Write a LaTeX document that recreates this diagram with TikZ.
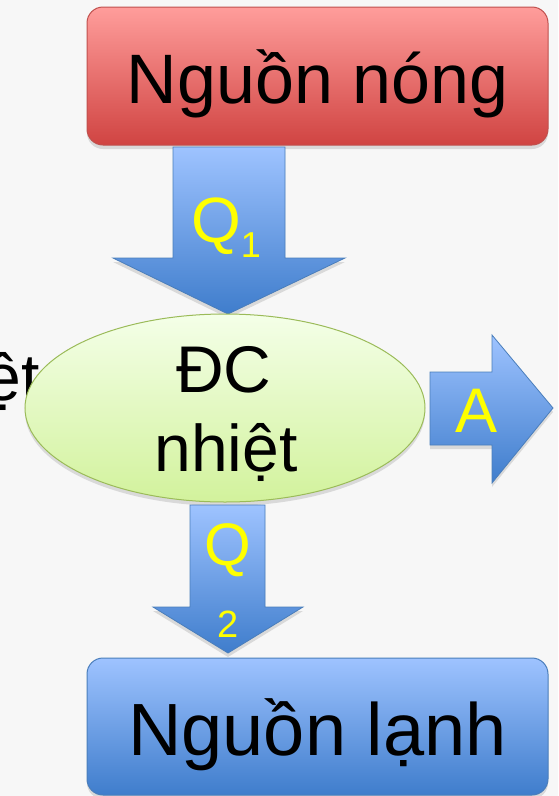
\documentclass[tikz,border=0pt]{standalone}
\usepackage{fontspec}
\setmainfont{Liberation Sans}
\usetikzlibrary{shapes.geometric,shadows}
\definecolor{bg}{HTML}{F7F7F7}
\definecolor{redtop}{HTML}{FF9D9B}
\definecolor{redbot}{HTML}{D04442}
\definecolor{redline}{HTML}{C0504D}
\definecolor{bluetop}{HTML}{9EC3FF}
\definecolor{bluebot}{HTML}{3F7DCC}
\definecolor{blueline}{HTML}{4A7EBB}
\definecolor{greentop}{HTML}{F4FFE8}
\definecolor{greenbot}{HTML}{D2F29C}
\definecolor{greenline}{HTML}{9BBB59}
\definecolor{qyellow}{HTML}{FFFF00}
\tikzset{
  softshadow/.style={drop shadow={opacity=0.25,shadow xshift=0pt,shadow yshift=-4pt}},
  redbox/.style={draw=redline,line width=1pt,top color=redtop,bottom color=redbot,
    rounded corners=16pt,minimum width=461pt,inner sep=0pt,softshadow,
    font=\fontsize{70}{80}\selectfont},
  bluebox/.style={draw=blueline,line width=1pt,top color=bluetop,bottom color=bluebot,
    rounded corners=16pt,minimum width=461pt,inner sep=0pt,softshadow,
    font=\fontsize{74}{80}\selectfont},
  blockarrow/.style={draw=blueline,line width=0.8pt,top color=bluetop,bottom color=bluebot,softshadow},
  bigtxt/.style={font=\fontsize{66}{70}\selectfont,inner sep=0pt},
  ylw/.style={text=qyellow,inner sep=0pt}
}
\begin{document}
\begin{tikzpicture}[x=1pt,y=-1pt]
\fill[bg] (0,0) rectangle (558,796);
\useasboundingbox (0,0) rectangle (558,796);
% cut-off text on the left
\begin{scope}
\clip (0,0) rectangle (558,796);
\node[bigtxt,anchor=base east] (cut) at (40,400) {ệt};
\end{scope}
% hot source
\node[redbox,minimum height=138pt,text height=54pt,text depth=0pt] (hot) at (317.5,76) {Nguồn nóng};
% Q1 arrow
\path[blockarrow] (173,147) -- (285,147) -- (285,258) -- (345,258) -- (228,314) -- (113,258) -- (173,258) -- cycle;
\node[ylw,anchor=base,font=\fontsize{64}{70}\selectfont] (q1) at (226,242) {Q\raisebox{-15pt}{\fontsize{36}{40}\selectfont 1}};
% engine
\node[ellipse,draw=greenline,line width=1pt,top color=greentop,bottom color=greenbot,
  minimum width=400pt,minimum height=188pt,inner sep=0pt,softshadow] (engine) at (225,408) {};
\node[bigtxt,anchor=base] (dc) at (224,392) {ĐC};
\node[bigtxt,anchor=base] (nhiet) at (226,471) {nhiệt};
% A arrow
\path[blockarrow] (430,372) -- (492,372) -- (492,335) -- (553,408) -- (492,483) -- (492,445) -- (430,445) -- cycle;
\node[ylw,anchor=base,font=\fontsize{63}{70}\selectfont] (a) at (477,432) {A};
% Q2 arrow
\path[blockarrow] (190,505) -- (265,505) -- (265,607) -- (303,607) -- (228,653) -- (153,607) -- (190,607) -- cycle;
\node[ylw,anchor=base,font=\fontsize{60}{70}\selectfont] (q2) at (228,565) {Q};
\node[ylw,anchor=base,font=\fontsize{38}{40}\selectfont] (q2sub) at (228,637) {2};
% cold sink
\node[bluebox,minimum height=137pt,text height=57pt,text depth=0pt] (cold) at (317.5,726.5) {Nguồn lạnh};
\end{tikzpicture}
\end{document}
